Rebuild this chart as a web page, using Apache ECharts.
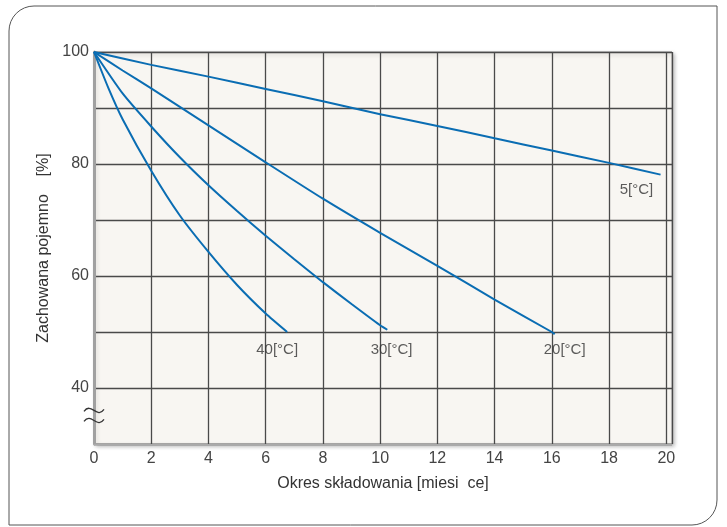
<!DOCTYPE html>
<html>
<head>
<meta charset="utf-8">
<script src="https://cdn.jsdelivr.net/npm/echarts@6/dist/echarts.min.js"></script>
<style>
html,body{margin:0;padding:0;background:#fff;}
#c{width:727px;height:527px;}
</style>
</head>
<body>
<div id="c"></div>
<script>
// ---- data ----
const months5  = [0, 2, 4, 6, 8, 10, 12, 14, 16, 18, 19.8];
const cap5     = [100, 97.7, 95.6, 93.4, 91.2, 88.9, 86.8, 84.6, 82.4, 80.2, 78.1];
const months20 = [0, 1, 2, 4, 6, 8, 10, 12, 14, 16, 16.1];
const cap20    = [100, 96.7, 93.5, 86.9, 80.3, 73.8, 67.7, 61.8, 55.8, 50.0, 49.6];
const months30 = [0, 1, 2, 3, 4, 5, 6, 7, 8, 9, 10, 10.25];
const cap30    = [100, 92.6, 86.7, 81.2, 76.2, 71.6, 67.2, 63.0, 58.9, 55.0, 51.2, 50.4];
const months40 = [0, 0.5, 1, 2, 3, 4, 5, 6, 6.75];
const cap40    = [100, 93.6, 88.0, 78.8, 70.8, 64.3, 58.4, 53.3, 50.0];
const curveLabels = ['5[°C]', '20[°C]', '30[°C]', '40[°C]'];
const labelX = [18.96, 16.45, 10.4, 6.4];
const labelY = [75.4, 46.8, 46.8, 46.8];
const yTickLabels = [40, 60, 80, 100];
const xTickLabels = [0, 2, 4, 6, 8, 10, 12, 14, 16, 18, 20];
const yAxisName = 'Zachowana pojemno    [%]';
const xAxisName = 'Okres składowania [miesi  ce]';

const zip = (xs, ys) => xs.map((x, i) => [x, ys[i]]);
const FONT = 'Liberation Sans';
const LINE = '#0a6db3';

const chart = echarts.init(document.getElementById('c'), null, {renderer: 'canvas'});
const lineSeries = (d) => ({
  type: 'line', data: d, smooth: 0.2, showSymbol: false,
  lineStyle: {color: LINE, width: 2}, silent: true, z: 3
});
const frame = {type: 'rect', silent: true, z: -10,
  shape: {x: 9, y: 6, width: 708, height: 519, r: [25, 0, 25, 0]},
  style: {fill: 'none', stroke: '#555', lineWidth: 1}};
chart.setOption({
  animation: false,
  textStyle: {fontFamily: FONT},
  grid: {
    left: 94, right: 55, top: 52, bottom: 83,
    show: true, backgroundColor: '#f8f6f2', borderColor: '#9a9a9a', borderWidth: 1,
    shadowColor: 'rgba(0,0,0,0.28)', shadowBlur: 4, shadowOffsetX: 2, shadowOffsetY: 2
  },
  xAxis: {
    type: 'value', min: 0, max: 20.2, interval: 2,
    name: xAxisName, nameLocation: 'middle', nameGap: 32,
    nameTextStyle: {fontSize: 16, color: '#333', fontFamily: FONT},
    axisLine: {show: true, lineStyle: {color: '#aaa', width: 1}},
    axisTick: {show: false},
    axisLabel: {
      margin: 7, fontSize: 16, color: '#444', fontFamily: FONT,
      formatter: v => xTickLabels.includes(v) ? String(v) : ''
    },
    splitLine: {show: true, lineStyle: {color: '#4a4a4a', width: 1.3}}
  },
  yAxis: {
    type: 'value', min: 30, max: 100, interval: 10,
    name: yAxisName, nameLocation: 'middle', nameGap: 32, nameRotate: 90,
    nameTextStyle: {fontSize: 16, color: '#333', fontFamily: FONT},
    axisLine: {show: true, lineStyle: {color: '#a0a0a0', width: 3}},
    axisTick: {show: false},
    axisLabel: {
      margin: 5, fontSize: 16, color: '#444', fontFamily: FONT,
      formatter: v => yTickLabels.includes(v) ? String(v) : ''
    },
    splitLine: {show: true, lineStyle: {color: '#4a4a4a', width: 1.3}}
  },
  graphic: [frame],
  series: [
    lineSeries(zip(months5, cap5)),
    lineSeries(zip(months20, cap20)),
    lineSeries(zip(months30, cap30)),
    lineSeries(zip(months40, cap40)),
    {
      type: 'scatter', symbolSize: 0, silent: true, z: 4,
      data: labelX.map((x, i) => ({name: curveLabels[i], value: [x, labelY[i]]})),
      label: {show: true, position: 'inside', formatter: p => p.name,
              fontSize: 15, color: '#333', fontFamily: FONT}
    }
  ]
});
// axis-break squiggle on the y axis
const squiggle = (yVal) => {
  const p = chart.convertToPixel({gridIndex: 0}, [0, yVal]);
  const x = p[0], y = p[1];
  return {type: 'bezierCurve', silent: true, z: 10,
    shape: {x1: x - 10, y1: y + 1, cpx1: x - 3, cpy1: y - 9, cpx2: x + 3, cpy2: y + 9, x2: x + 10, y2: y - 1},
    style: {stroke: '#333', lineWidth: 1.3, fill: 'none'}};
};
chart.setOption({
  graphic: [frame, squiggle(36.0), squiggle(34.2)]
}, {replaceMerge: ['graphic']});
</script>
</body>
</html>
